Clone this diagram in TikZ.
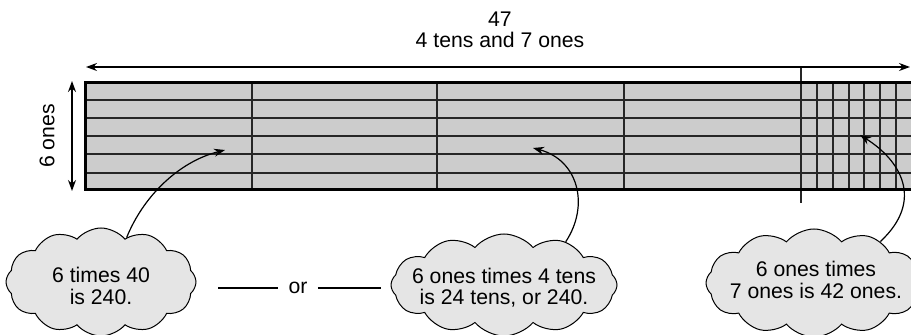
\documentclass[tikz,border=0pt]{standalone}
\usepackage{fontspec}
\setmainfont{Liberation Sans}
\usetikzlibrary{shapes.symbols,arrows.meta}
\begin{document}
\begin{tikzpicture}[x=0.5pt,y=-0.5pt,
  lbl/.style={font=\fontsize{10.6}{10.6}\selectfont, align=center, inner sep=0pt},
  bubble/.style={cloud, cloud puffs=12, cloud puff arc=100, cloud ignores aspect,
    draw=black, line width=0.5pt, fill=black!10, inner sep=0pt},
  gridline/.style={line width=0.6pt, draw=black!85},
  arr/.style={line width=0.6pt, -{Stealth[length=5.5pt,width=4pt]}},
  dbl/.style={line width=0.6pt, {Stealth[length=5.5pt,width=4pt]}-{Stealth[length=5.5pt,width=4pt]}}]
\useasboundingbox (0,0) rectangle (911,335);
\clip (0,0) rectangle (911,335);
% area model
\fill[black!20] (85.5,82.5) rectangle (920,189.5);
\foreach \y in {100,118,136,154,173} \draw[gridline] (85.5,\y) -- (920,\y);
\foreach \x in {252,437,624} \draw[gridline] (\x,82.5) -- (\x,189.5);
\foreach \x in {817,833,849,864,880,896} \draw[gridline] (\x,82.5) -- (\x,189.5);
\draw[gridline] (801,68) -- (801,203);
\draw[line width=1.6pt] (920,82.5) -- (85.5,82.5) -- (85.5,189.5) -- (920,189.5);
% dimension arrows
\coordinate (tl) at (86,67);
\coordinate (tr) at (910,67);
\draw[dbl] (tl) -- (tr);
\node[lbl] (title) at (500,30) {47\\4 tens and 7 ones};
\coordinate (vt) at (72,81);
\coordinate (vb) at (72,191);
\draw[dbl] (vt) -- (vb);
\node[lbl, rotate=90] (six) at (47,136) {6 ones};
% clouds
\node[bubble, minimum width=95pt, minimum height=54pt] (c1) at (101,282) {};
\node[lbl] (t1) at (101,286) {6 times 40\\is 240.};
\node[bubble, minimum width=113pt, minimum height=51pt] (c2) at (504,285) {};
\node[lbl] (t2) at (504,288) {6 ones times 4 tens\\is 24 tens, or 240.};
\node[bubble, minimum width=108pt, minimum height=54pt] (c3) at (814,283) {};
\node[lbl] (t3) at (816,280) {6 ones times\\7 ones is 42 ones.};
% or
\node[lbl, inner sep=5pt] (or) at (298,288) {or};
\coordinate (or1) at (218,288);
\coordinate (or2) at (381,288);
\draw[line width=0.6pt] (or1) -- (or.west);
\draw[line width=0.6pt] (or.east) -- (or2);
% pointers
\coordinate (p1) at (225,150);
\coordinate (p2) at (533,148);
\coordinate (p3) at (860,135);
\draw[arr] (c1.60) .. controls (143,197) and (178,162) .. (p1);
\draw[arr] (c2.35) .. controls (590,205) and (578,160) .. (p2);
\draw[arr] (c3.32) .. controls (925,200) and (900,160) .. (p3);
\end{tikzpicture}
\end{document}
